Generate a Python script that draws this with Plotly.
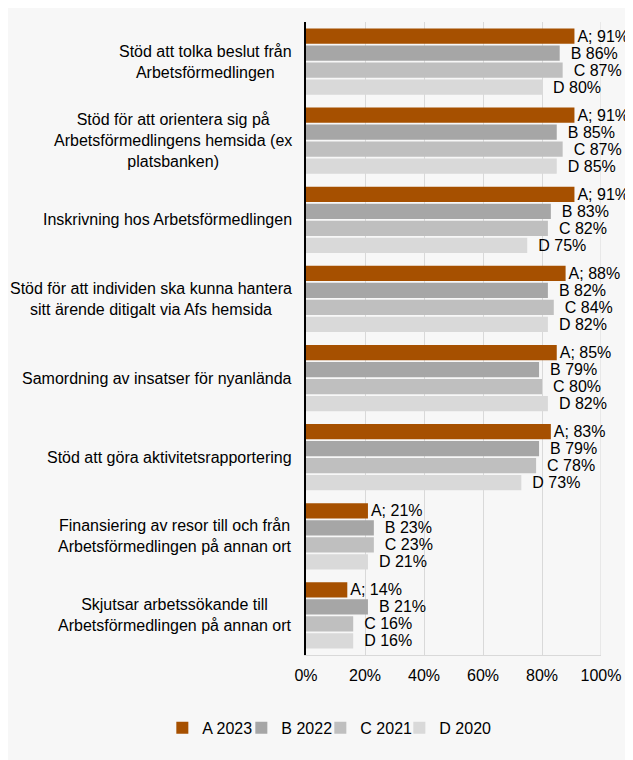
"""
Stapeldiagram: stöd från Arbetsförmedlingen, andel per år
"""
import plotly.graph_objects as go

categories = [
    'Stöd att tolka beslut från<br>Arbetsförmedlingen',
    'Stöd för att orientera sig på<br>Arbetsförmedlingens hemsida (ex<br>platsbanken)',
    'Inskrivning hos Arbetsförmedlingen',
    'Stöd för att individen ska kunna hantera<br>sitt ärende ditigalt via Afs hemsida',
    'Samordning av insatser för nyanlända',
    'Stöd att göra aktivitetsrapportering',
    'Finansiering av resor till och från<br>Arbetsförmedlingen på annan ort',
    'Skjutsar arbetssökande till<br>Arbetsförmedlingen på annan ort',
]

a_2023 = [91, 91, 91, 88, 85, 83, 21, 14]
b_2022 = [86, 85, 83, 82, 79, 79, 23, 21]
c_2021 = [87, 87, 82, 84, 80, 78, 23, 16]
d_2020 = [80, 85, 75, 82, 82, 73, 21, 16]

tick_vals = [0, 0.2, 0.4, 0.6, 0.8, 1.0]
tick_text = ['0%', '20%', '40%', '60%', '80%', '100%']

series = [
    ('A 2023', 'A;', a_2023, '#a65000', ''),
    ('B 2022', 'B', b_2022, '#a6a6a6', '\u2002'),
    ('C 2021', 'C', c_2021, '#bfbfbf', '\u2002'),
    ('D 2020', 'D', d_2020, '#d9d9d9', '\u2002'),
]

FONT = 'Liberation Sans, Arial, sans-serif'

fig = go.Figure()

for name, prefix, values, color, pad in series:
    fig.add_trace(go.Bar(
        y=categories,
        x=[v / 100 for v in values],
        orientation='h',
        name=name,
        marker=dict(color=color, line=dict(width=0)),
        text=[f'{pad}{prefix} {v}%' for v in values],
        textposition='outside',
        textfont=dict(size=16, color='#000000', family=FONT),
        constraintext='none',
        cliponaxis=False,
        hovertemplate='%{y}<br>' + name + ': %{x:.0%}<extra></extra>',
    ))

# tom post sist i legenden så att "D 2020" inte klipps av legendrutan
fig.add_trace(go.Scatter(
    x=[None], y=[None], mode='markers', name=' ',
    marker=dict(color='rgba(0,0,0,0)'), hoverinfo='skip',
))

# Kategorietiketter, centrerade rader som i originalet
for cat in categories:
    fig.add_annotation(
        x=0, xref='paper', xshift=-12, xanchor='right',
        y=cat, yref='y',
        text=cat, align='center', showarrow=False,
        font=dict(size=16, color='#000000', family=FONT),
    )

# sidan har 8 px marginal i webbläsaren, därför 625x752
fig.update_layout(
    width=625,
    height=752,
    margin=dict(l=298, r=27, t=14, b=105),
    barmode='group',
    bargap=0.14,
    bargroupgap=0.1,
    paper_bgcolor='#f7f7f7',
    plot_bgcolor='#f7f7f7',
    font=dict(family=FONT, size=16, color='#000000'),
    showlegend=True,
    legend=dict(
        orientation='h',
        xref='paper', yref='paper',
        x=-0.487, y=-0.115, xanchor='left', yanchor='middle',
        font=dict(size=16, color='#000000'),
        traceorder='normal',
        entrywidth=34,
        entrywidthmode='pixels',
    ),
    xaxis=dict(
        range=[0, 1],
        tickvals=tick_vals,
        ticktext=tick_text,
        showgrid=True,
        gridcolor='#d9d9d9',
        gridwidth=1,
        showline=True,
        linecolor='#d9d9d9',
        mirror=False,
        zeroline=False,
        ticks='',
        ticklabelstandoff=6,
        tickfont=dict(size=16, color='#000000'),
        fixedrange=True,
    ),
    yaxis=dict(
        autorange='reversed',
        showticklabels=False,
        showline=True,
        linecolor='#000000',
        linewidth=1.5,
        ticks='',
        showgrid=False,
        zeroline=False,
        fixedrange=True,
    ),
)

# Högra kanten av diagramytan
fig.add_shape(type='line', xref='x', yref='paper', x0=1, x1=1, y0=0, y1=1,
              line=dict(color='#d9d9d9', width=1), layer='below')

fig.write_html('out.html')
